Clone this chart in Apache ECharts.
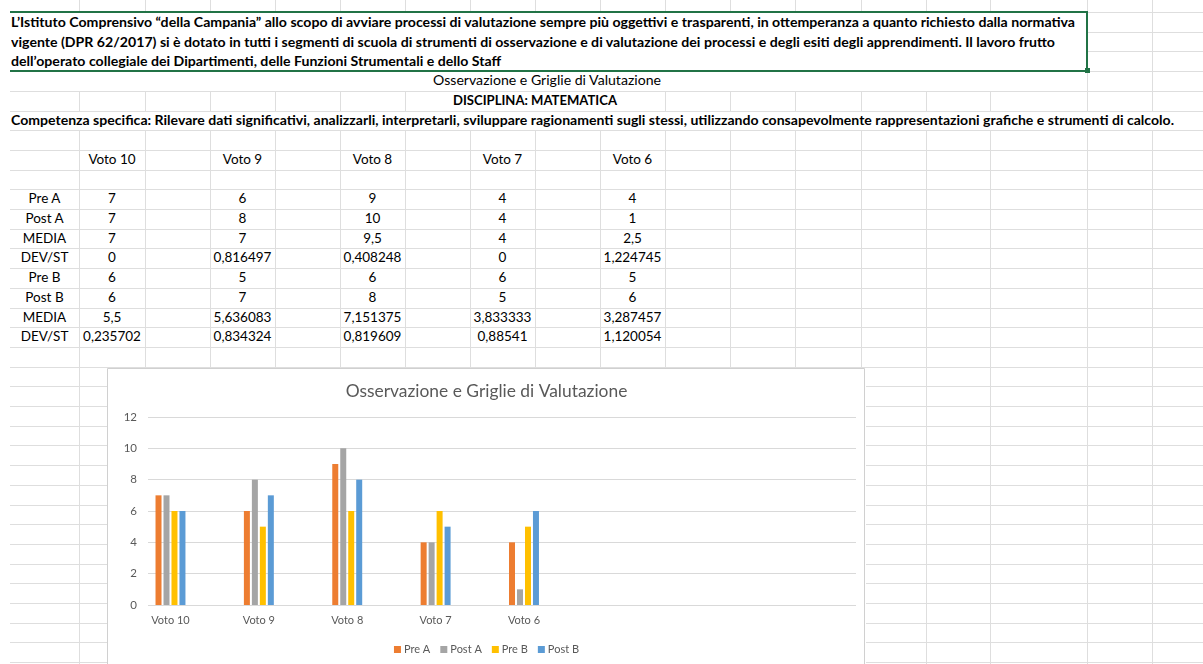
<!DOCTYPE html>
<html><head><meta charset="utf-8">
<script src="https://cdn.jsdelivr.net/npm/echarts@6/dist/echarts.min.js"></script>
<style>
html,body{margin:0;padding:0;width:1203px;height:664px;overflow:hidden;background:#fff;}
#sheet{position:absolute;left:0;top:0;width:1203px;height:664px;font-family:Lato,"Open Sans",sans-serif;}
.t{position:absolute;white-space:nowrap;color:#000;line-height:1.2;}
.gl{position:absolute;background:#dedede;}
#chart{position:absolute;left:107px;top:368px;width:759px;height:300px;background:#fff;}
</style></head><body>
<div id="sheet"></div>
<div id="chart"></div>
<script>
// ---------- data ----------
const categories = ['Voto 10','Voto 9','Voto 8','Voto 7','Voto 6'];
const preA  = [7, 6, 9, 4, 4];
const postA = [7, 8, 10, 4, 1];
const preB  = [6, 5, 6, 6, 5];
const postB = [6, 7, 8, 5, 6];
const mediaA = ['7','7','9,5','4','2,5'];
const devA   = ['0','0,816497','0,408248','0','1,224745'];
const mediaB = ['5,5','5,636083','7,151375','3,833333','3,287457'];
const devB   = ['0,235702','0,834324','0,819609','0,88541','1,120054'];
const rowLabels = ['Pre A','Post A','MEDIA','DEV/ST','Pre B','Post B','MEDIA','DEV/ST'];
const seriesNames = ['Pre A','Post A','Pre B','Post B'];
const emptySlots = ['','',''];
const paragraph = [
  'L\u2019Istituto Comprensivo \u201cdella Campania\u201d allo scopo di avviare processi di valutazione sempre pi\u00f9 oggettivi e trasparenti, in ottemperanza a quanto richiesto dalla normativa',
  'vigente (DPR 62/2017) si \u00e8 dotato in tutti i segmenti di scuola di strumenti di osservazione e di valutazione dei processi e degli esiti degli apprendimenti. Il lavoro frutto',
  'dell\u2019operato collegiale dei Dipartimenti, delle Funzioni Strumentali e dello Staff'
];
const sheetTitle = 'Osservazione e Griglie di Valutazione';
const discipline = 'DISCIPLINA: MATEMATICA';
const competence = 'Competenza specifica: Rilevare dati significativi, analizzarli, interpretarli, sviluppare ragionamenti sugli stessi, utilizzando consapevolmente rappresentazioni grafiche e strumenti di calcolo.';
const chartTitle = 'Osservazione e Griglie di Valutazione';

// ---------- spreadsheet background ----------
const sheet = document.getElementById('sheet');
const colX = [79,145,210,275,340,405,470,535,600,665,730,795,861,926,990,1087,1152];
const Y = k => Math.round(12 + 19.7 * k);
function line(x, y, w, h, color) {
  const d = document.createElement('div'); d.className = 'gl';
  d.style.left = x + 'px'; d.style.top = y + 'px'; d.style.width = w + 'px'; d.style.height = h + 'px';
  if (color) d.style.background = color;
  sheet.appendChild(d);
}
for (let k = -1; k <= 33; k++) {
  const y0 = Y(k), y1 = Y(k + 1);
  colX.forEach(x => {
    if (k >= 0 && k <= 3 && x < 1087) return;
    if (k >= 0 && k <= 2 && x === 1087) return;
    if (k === 4 && (x === 470 || x === 535 || x === 600)) return;
    if (k === 5) return;
    line(x, y0, 1, y1 - y0);
  });
}
for (let k = 0; k <= 34; k++) {
  const y = Y(k);
  if (k === 1 || k === 2) { line(1088, y, 1203 - 1088, 1); continue; }
  line(10, y, 1193, 1);
}
const G = '#217346';
line(10, 11, 1078, 2, G);
line(10, 70, 1078, 2, G);
line(1086, 11, 2, 61, G);
line(1085, 68, 5, 5, G);

function text(str, opts) {
  const s = document.createElement('span'); s.className = 't'; s.textContent = str;
  s.style.fontSize = opts.size + 'px';
  s.style.fontWeight = opts.bold ? '700' : '400';
  s.style.top = (opts.cy - 0.64 * opts.size) + 'px';
  sheet.appendChild(s);
  const w = s.getBoundingClientRect().width;
  let sx = opts.scale || 1;
  if (opts.width) sx = opts.width / w;
  if (opts.left !== undefined) {
    s.style.left = opts.left + 'px';
    s.style.transformOrigin = '0 50%';
    s.style.transform = 'scaleX(' + sx + ')';
  } else {
    s.style.left = opts.center + 'px';
    s.style.transformOrigin = '0 50%';
    s.style.transform = 'translateX(' + (-w * sx / 2) + 'px) scaleX(' + sx + ')';
  }
  return sx;
}
const paraScale = text(paragraph[0], {size: 14, bold: true, left: 11, cy: Y(0) + 11, width: 1064});
text(paragraph[1], {size: 14, bold: true, left: 11, cy: Y(1) + 11, scale: paraScale});
text(paragraph[2], {size: 14, bold: true, left: 11, cy: Y(2) + 11, scale: paraScale});
text(sheetTitle, {size: 14, center: 547, cy: Y(3) + 10, width: 228});
text(discipline, {size: 14, bold: true, center: 535, cy: Y(4) + 10, width: 164});
text(competence, {size: 14, bold: true, left: 11, cy: Y(5) + 10, width: 1163});

const valCenters = [112, 242.5, 372.5, 502.5, 632.5];
const labelCenter = 44.5;
categories.forEach((c, i) => text(c, {size: 13.5, center: valCenters[i], cy: Y(7) + 10}));
const tableRows = [preA.map(String), postA.map(String), mediaA, devA, preB.map(String), postB.map(String), mediaB, devB];
tableRows.forEach((row, r) => {
  text(rowLabels[r], {size: 13.5, center: labelCenter, cy: Y(9 + r) + 10});
  row.forEach((v, i) => text(v, {size: 13.5, center: valCenters[i], cy: Y(9 + r) + 10}));
});

// ---------- chart ----------
const cv = document.createElement('canvas').getContext('2d');
cv.font = '18px Lato';
const titleSize = Math.round(18 * 282 / cv.measureText(chartTitle).width * 10) / 10;
const titleLH = Math.round(titleSize * 1.2);

const chart = echarts.init(document.getElementById('chart'), null, {renderer: 'canvas'});
const chartCats = categories.concat(emptySlots);
const colors = ['#ED7D31', '#A5A5A5', '#FFC000', '#5B9BD5'];
const seriesData = [preA, postA, preB, postB];
chart.setOption({
  animation: false,
  textStyle: {fontFamily: 'Lato'},
  color: colors,
  graphic: [{
    type: 'rect', silent: true, z: -10,
    shape: {x: 0.5, y: 0.5, width: 757, height: 400},
    style: {fill: '#fff', stroke: '#d0d0d0', lineWidth: 1}
  }],
  title: {
    text: chartTitle, left: 'center', top: 23 - titleLH / 2, padding: 0,
    textStyle: {fontSize: titleSize, lineHeight: titleLH, fontWeight: 'normal', color: '#595959', fontFamily: 'Lato'}
  },
  legend: {
    data: seriesNames, left: 'center', top: 276, padding: 0,
    icon: 'rect', itemWidth: 7, itemHeight: 7, itemGap: 10,
    textStyle: {fontSize: 11, color: '#595959', fontFamily: 'Lato', padding: [0, 0, 0, -2]}
  },
  grid: [
    {left: 41, top: 49, width: 708, height: 188},
    {left: 19.3, top: 49, width: 707, height: 188}
  ],
  xAxis: [
    {type: 'category', gridIndex: 0, data: chartCats, show: false},
    {type: 'category', gridIndex: 1, data: chartCats,
     axisLine: {show: false}, axisTick: {show: false},
     axisLabel: {interval: 0, fontSize: 11, color: '#595959', margin: 10, fontFamily: 'Lato'}}
  ],
  yAxis: [
    {type: 'value', gridIndex: 0, min: 0, max: 12, interval: 2,
     axisLine: {show: false}, axisTick: {show: false},
     axisLabel: {fontSize: 11.5, color: '#595959', margin: 11, fontFamily: 'Lato'},
     splitLine: {lineStyle: {color: '#d9d9d9', width: 1}}},
    {type: 'value', gridIndex: 1, min: 0, max: 12, interval: 2, show: false, splitLine: {show: false}}
  ],
  series: seriesNames.map((n, i) => ({
    name: n, type: 'bar', xAxisIndex: 1, yAxisIndex: 1,
    data: seriesData[i], barWidth: 6, barGap: '33%',
    itemStyle: {color: colors[i]}
  }))
});
</script>
</body></html>
